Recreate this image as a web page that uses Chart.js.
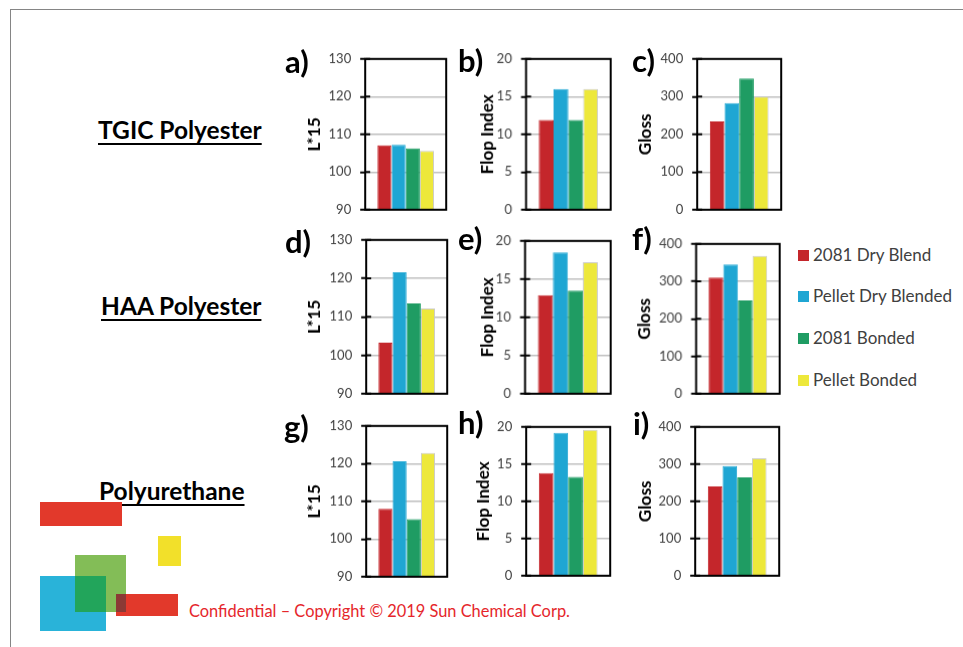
<!DOCTYPE html>
<html>
<head>
<meta charset="utf-8">
<script src="https://cdn.jsdelivr.net/npm/chart.js@4.4.1/dist/chart.umd.min.js"></script>
<style>
  html, body { margin: 0; padding: 0; background: #fff; }
  body { width: 963px; height: 647px; position: relative; overflow: hidden; font-family: Lato, 'Open Sans', sans-serif; }
  .frame { position: absolute; left: 10px; top: 9px; width: 1000px; height: 700px; border-left: 1.5px solid #858585; border-top: 1.5px solid #858585; }
  canvas { position: absolute; }
  .letter { position: absolute; font-weight: bold; font-size: 31px; line-height: 1; color: #000; white-space: nowrap; }
  .rowlabel { position: absolute; font-weight: bold; font-size: 24.5px; line-height: 1; color: #000; white-space: nowrap;
              text-decoration: underline; text-decoration-thickness: 2px; text-underline-offset: 4px; }
  .legend-item { position: absolute; left: 798px; font-size: 17px; line-height: 1; color: #404040; white-space: nowrap; }
  .legend-item span { display: inline-block; width: 11px; height: 11px; margin-right: 4px; }
  .deco { position: absolute; }
  .confidential { position: absolute; left: 189px; font-size: 16.4px; line-height: 1; color: #e5262b; white-space: nowrap; }
</style>
</head>
<body>
<div class="frame"></div>
<div id="root"></div>

<!-- decorative logo blocks -->
<div class="deco" style="left:40px;top:502px;width:82px;height:24px;background:#e2392b"></div>
<div class="deco" style="left:158px;top:536px;width:23px;height:30px;background:#f2e02a"></div>
<div class="deco" style="left:75px;top:555px;width:51px;height:57px;background:#83bd57"></div>
<div class="deco" style="left:40px;top:576px;width:66px;height:55px;background:#29b3d9"></div>
<div class="deco" style="left:75px;top:576px;width:31px;height:36px;background:#22a55b"></div>
<div class="deco" style="left:116px;top:594px;width:62px;height:22px;background:#e2392b"></div>
<div class="deco" style="left:116px;top:594px;width:10px;height:18px;background:#8b3a35"></div>

<div class="confidential" id="conf">Confidential – Copyright © 2019 Sun Chemical Corp.</div>

<script>
// series (bars inside every panel)
const seriesNames = ['2081 Dry Blend', 'Pellet Dry Blended', '2081 Bonded', 'Pellet Bonded'];
const seriesColors = ['#c4262b', '#1fa6d3', '#1f9c63', '#ede83b'];
const seriesBorders = ['#c4262b', '#1fa6d3', '#1f9c63', '#c9c9c9'];

// rows / columns
const rowNames = ['TGIC Polyester', 'HAA Polyester', 'Polyurethane'];
const panelLetters = ['a)', 'b)', 'c)', 'd)', 'e)', 'f)', 'g)', 'h)', 'i)'];
const axisTitles = ['L*15', 'Flop Index', 'Gloss'];
const axisMin = [90, 0, 0];
const axisMax = [130, 20, 400];
const axisStep = [10, 5, 100];

// values, series order as above
const tgicL = [107.1, 107.2, 106.3, 105.6];
const tgicFlop = [11.9, 16.0, 11.9, 16.0];
const tgicGloss = [234, 283, 348, 300];
const haaL = [103.3, 121.6, 113.5, 112.2];
const haaFlop = [12.9, 18.5, 13.5, 17.2];
const haaGloss = [310, 345, 249, 368];
const puL = [108.0, 120.6, 105.3, 122.8];
const puFlop = [13.8, 19.2, 13.3, 19.6];
const puGloss = [240, 295, 264, 316];

const panelValues = [tgicL, tgicFlop, tgicGloss, haaL, haaFlop, haaGloss, puL, puFlop, puGloss];

// page layout: plot box [left, top, right, bottom], title offset, letter [left, baseline]
const boxes = [
    [365, 59, 446, 209], [526, 59, 610, 209], [697, 59, 781, 209],
    [366, 240, 447, 393], [525, 241, 610, 393], [696, 244, 779, 393],
    [366, 426, 447, 576], [526, 427, 610, 575], [695, 427, 779, 575]
];
const titleOffsets = [51, 38.5, 52, 52, 37.5, 51.5, 52, 43, 50];
const letterPos = [
    [285, 73.5], [458, 72.5], [632, 72.5],
    [285, 253], [458, 250], [632, 250],
    [284, 438], [458, 434], [633, 435]
];
const rowLabelPos = [[98, 139.5], [101, 316], [99, 501]];

const root = document.getElementById('root');

// black frame around the plot area + excel-style cross ticks
const boxPlugin = {
    id: 'box',
    afterDraw(chart) {
        const { ctx, chartArea: { left, top, right, bottom } } = chart;
        const y = chart.scales.y;
        ctx.save();
        ctx.strokeStyle = '#000';
        ctx.lineWidth = 2;
        ctx.strokeRect(left, top, right - left, bottom - top);
        ctx.beginPath();
        y.ticks.forEach(t => {
            const py = y.getPixelForValue(t.value);
            ctx.moveTo(left, py);
            ctx.lineTo(left + 5, py);
        });
        ctx.stroke();
        ctx.restore();
    }
};

const padTop = 10, padBottom = 10, padRight = 4;
const titleSize = 17;

panelValues.forEach((values, i) => {
    const col = i % 3;
    const [bl, bt, br, bb] = boxes[i];
    const scaleWidth = titleOffsets[i] + titleSize * 1.2 / 2;

    const canvas = document.createElement('canvas');
    canvas.width = Math.round(scaleWidth + (br - bl) + padRight);
    canvas.height = padTop + (bb - bt) + padBottom;
    root.appendChild(canvas);

    const chart = new Chart(canvas, {
        type: 'bar',
        data: {
            labels: [''],
            datasets: seriesNames.map((name, s) => ({
                label: name,
                data: [values[s]],
                backgroundColor: seriesColors[s],
                borderColor: seriesBorders[s],
                borderWidth: 1,
                categoryPercentage: 0.7,
                barPercentage: 1.0
            }))
        },
        options: {
            responsive: false,
            maintainAspectRatio: false,
            animation: false,
            devicePixelRatio: 1,
            layout: { autoPadding: false, padding: { left: 0, top: padTop, right: padRight, bottom: padBottom } },
            plugins: { legend: { display: false }, tooltip: { enabled: false } },
            scales: {
                x: { display: false },
                y: {
                    min: axisMin[col],
                    max: axisMax[col],
                    afterFit: scale => { scale.width = scaleWidth; },
                    ticks: {
                        stepSize: axisStep[col],
                        padding: 9,
                        color: '#404040',
                        font: { family: 'Lato', size: 13 }
                    },
                    grid: {
                        color: '#bfbfbf',
                        lineWidth: 1.5,
                        tickColor: '#000',
                        tickWidth: 2,
                        tickLength: 5
                    },
                    border: { display: false },
                    title: {
                        display: true,
                        text: axisTitles[col],
                        color: '#000',
                        padding: { top: 0, bottom: 0 },
                        font: { family: 'Lato', size: titleSize, weight: 'bold' }
                    }
                }
            }
        },
        plugins: [boxPlugin]
    });

    // grow the canvas until the plot area has the wanted size, then place it
    let ca = chart.chartArea;
    const dw = (br - bl) - (ca.right - ca.left);
    const dh = (bb - bt) - (ca.bottom - ca.top);
    if (dw || dh) {
        chart.resize(canvas.width + dw, canvas.height + dh);
        ca = chart.chartArea;
    }
    canvas.style.left = (bl - ca.left) + 'px';
    canvas.style.top = (bt - ca.top) + 'px';

    const letter = document.createElement('div');
    letter.className = 'letter';
    letter.textContent = panelLetters[i];
    letter.style.left = letterPos[i][0] + 'px';
    letter.style.top = (letterPos[i][1] - 31 * 0.887) + 'px';
    root.appendChild(letter);
});

rowNames.forEach((name, r) => {
    const d = document.createElement('div');
    d.className = 'rowlabel';
    d.textContent = name;
    d.style.left = rowLabelPos[r][0] + 'px';
    d.style.top = (rowLabelPos[r][1] - 24.5 * 0.887) + 'px';
    root.appendChild(d);
});

// legend
const legendBaselines = [260.7, 302.5, 344.3, 386];
seriesNames.forEach((name, s) => {
    const d = document.createElement('div');
    d.className = 'legend-item';
    d.style.top = (legendBaselines[s] - 17 * 0.887) + 'px';
    const sw = document.createElement('span');
    sw.style.background = seriesColors[s];
    d.appendChild(sw);
    d.appendChild(document.createTextNode(name));
    root.appendChild(d);
});

document.getElementById('conf').style.top = (618 - 16.4 * 0.887) + 'px';
</script>
</body>
</html>
